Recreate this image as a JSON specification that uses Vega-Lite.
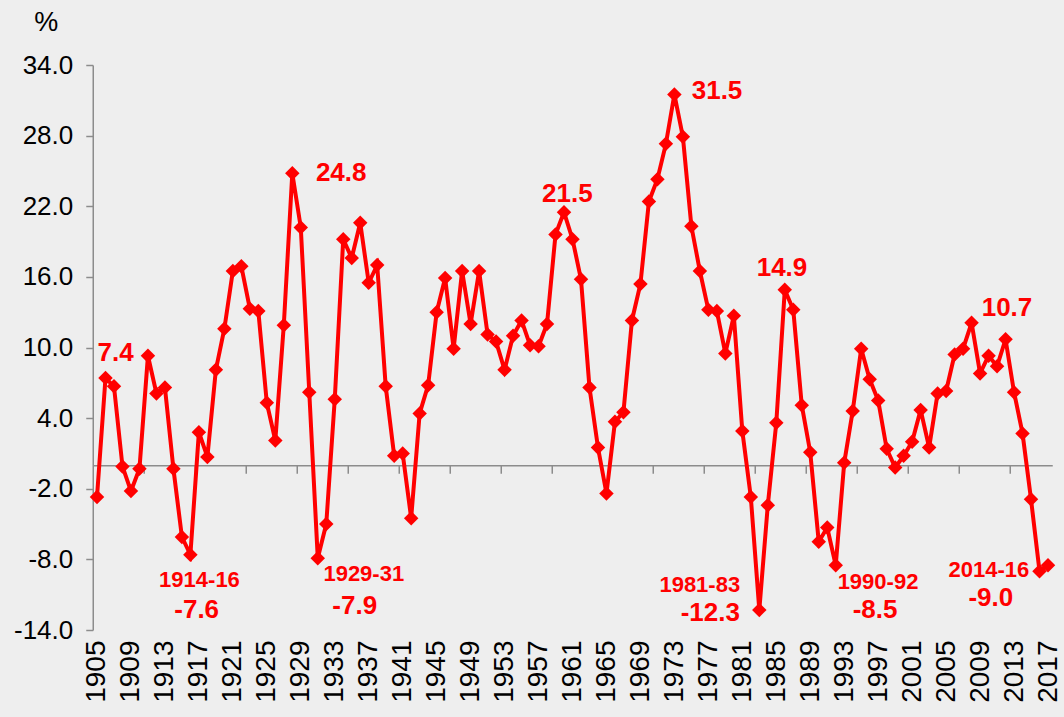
{
  "$schema": "https://vega.github.io/schema/vega-lite/v6.json",
  "width": 959.5,
  "height": 565,
  "autosize": {"type": "none"},
  "padding": {"left": 92.75, "top": 65, "right": 11.75, "bottom": 87},
  "background": "#eeeeee",
  "config": {"view": {"stroke": null}, "font": "Liberation Sans"},
  "datasets": {
    "series": [
      {"year": 1905, "v": -2.7}, {"year": 1906, "v": 7.4}, {"year": 1907, "v": 6.7}, {"year": 1908, "v": -0.1},
      {"year": 1909, "v": -2.2}, {"year": 1910, "v": -0.3}, {"year": 1911, "v": 9.3}, {"year": 1912, "v": 6.1},
      {"year": 1913, "v": 6.6}, {"year": 1914, "v": -0.3}, {"year": 1915, "v": -6.1}, {"year": 1916, "v": -7.6},
      {"year": 1917, "v": 2.8}, {"year": 1918, "v": 0.7}, {"year": 1919, "v": 8.1}, {"year": 1920, "v": 11.6},
      {"year": 1921, "v": 16.5}, {"year": 1922, "v": 16.9}, {"year": 1923, "v": 13.3}, {"year": 1924, "v": 13.1},
      {"year": 1925, "v": 5.3}, {"year": 1926, "v": 2.1}, {"year": 1927, "v": 11.9}, {"year": 1928, "v": 24.8},
      {"year": 1929, "v": 20.2}, {"year": 1930, "v": 6.2}, {"year": 1931, "v": -7.9}, {"year": 1932, "v": -5.0},
      {"year": 1933, "v": 5.6}, {"year": 1934, "v": 19.2}, {"year": 1935, "v": 17.6}, {"year": 1936, "v": 20.6},
      {"year": 1937, "v": 15.5}, {"year": 1938, "v": 17.0}, {"year": 1939, "v": 6.7}, {"year": 1940, "v": 0.8},
      {"year": 1941, "v": 1.0}, {"year": 1942, "v": -4.5}, {"year": 1943, "v": 4.4}, {"year": 1944, "v": 6.8},
      {"year": 1945, "v": 13.0}, {"year": 1946, "v": 15.9}, {"year": 1947, "v": 9.9}, {"year": 1948, "v": 16.5},
      {"year": 1949, "v": 12.0}, {"year": 1950, "v": 16.5}, {"year": 1951, "v": 11.1}, {"year": 1952, "v": 10.5},
      {"year": 1953, "v": 8.1}, {"year": 1954, "v": 11.0}, {"year": 1955, "v": 12.3}, {"year": 1956, "v": 10.2},
      {"year": 1957, "v": 10.1}, {"year": 1958, "v": 12.0}, {"year": 1959, "v": 19.6}, {"year": 1960, "v": 21.5},
      {"year": 1961, "v": 19.2}, {"year": 1962, "v": 15.8}, {"year": 1963, "v": 6.6}, {"year": 1964, "v": 1.5},
      {"year": 1965, "v": -2.4}, {"year": 1966, "v": 3.7}, {"year": 1967, "v": 4.5}, {"year": 1968, "v": 12.3},
      {"year": 1969, "v": 15.4}, {"year": 1970, "v": 22.4}, {"year": 1971, "v": 24.3}, {"year": 1972, "v": 27.3},
      {"year": 1973, "v": 31.5}, {"year": 1974, "v": 27.9}, {"year": 1975, "v": 20.3}, {"year": 1976, "v": 16.5},
      {"year": 1977, "v": 13.2}, {"year": 1978, "v": 13.1}, {"year": 1979, "v": 9.5}, {"year": 1980, "v": 12.7},
      {"year": 1981, "v": 2.9}, {"year": 1982, "v": -2.7}, {"year": 1983, "v": -12.3}, {"year": 1984, "v": -3.4},
      {"year": 1985, "v": 3.6}, {"year": 1986, "v": 14.9}, {"year": 1987, "v": 13.2}, {"year": 1988, "v": 5.1},
      {"year": 1989, "v": 1.1}, {"year": 1990, "v": -6.5}, {"year": 1991, "v": -5.3}, {"year": 1992, "v": -8.5},
      {"year": 1993, "v": 0.2}, {"year": 1994, "v": 4.6}, {"year": 1995, "v": 9.9}, {"year": 1996, "v": 7.3},
      {"year": 1997, "v": 5.5}, {"year": 1998, "v": 1.4}, {"year": 1999, "v": -0.2}, {"year": 2000, "v": 0.8},
      {"year": 2001, "v": 2.0}, {"year": 2002, "v": 4.7}, {"year": 2003, "v": 1.5}, {"year": 2004, "v": 6.1},
      {"year": 2005, "v": 6.3}, {"year": 2006, "v": 9.4}, {"year": 2007, "v": 9.9}, {"year": 2008, "v": 12.1},
      {"year": 2009, "v": 7.8}, {"year": 2010, "v": 9.3}, {"year": 2011, "v": 8.4}, {"year": 2012, "v": 10.7},
      {"year": 2013, "v": 6.2}, {"year": 2014, "v": 2.7}, {"year": 2015, "v": -2.9}, {"year": 2016, "v": -9.0},
      {"year": 2017, "v": -8.5}
    ],
    "notes": [
      {"label": "7.4", "year": 1907.2, "v": 9.5, "kind": "value"},
      {"label": "1914-16", "year": 1917.07, "v": -9.79, "kind": "period"},
      {"label": "-7.6", "year": 1916.74, "v": -12.3, "kind": "value"},
      {"label": "24.8", "year": 1933.76, "v": 24.81, "kind": "value"},
      {"label": "1929-31", "year": 1936.42, "v": -9.25, "kind": "period"},
      {"label": "-7.9", "year": 1935.35, "v": -11.92, "kind": "value"},
      {"label": "21.5", "year": 1960.39, "v": 23.06, "kind": "value"},
      {"label": "31.5", "year": 1978.02, "v": 31.77, "kind": "value"},
      {"label": "14.9", "year": 1985.67, "v": 16.73, "kind": "value"},
      {"label": "1981-83", "year": 1975.99, "v": -10.18, "kind": "period"},
      {"label": "-12.3", "year": 1977.23, "v": -12.53, "kind": "value"},
      {"label": "1990-92", "year": 1996.98, "v": -9.96, "kind": "period"},
      {"label": "-8.5", "year": 1996.63, "v": -12.31, "kind": "value"},
      {"label": "10.7", "year": 2012.17, "v": 13.33, "kind": "value"},
      {"label": "2014-16", "year": 2010.03, "v": -8.92, "kind": "period"},
      {"label": "-9.0", "year": 2010.27, "v": -11.3, "kind": "value"}
    ]
  },
  "layer": [
    {
      "data": {"name": "series"},
      "mark": {
        "type": "line",
        "color": "#ff0000",
        "strokeWidth": 4,
        "strokeJoin": "miter",
        "point": {"shape": "diamond", "size": 210, "filled": true, "color": "#ff0000", "opacity": 1}
      },
      "encoding": {
        "x": {
          "field": "year",
          "type": "quantitative",
          "scale": {"domain": [1904.5, 2017.5], "nice": false, "zero": false},
          "axis": {
            "orient": "bottom",
            "offset": -164.8,
            "values": [1910.5, 1916.5, 1922.5, 1928.5, 1934.5, 1940.5, 1946.5, 1952.5, 1958.5, 1964.5, 1970.5, 1976.5, 1982.5, 1988.5, 1994.5, 2000.5, 2006.5, 2012.5],
            "labels": false,
            "ticks": true,
            "tickSize": 8,
            "tickColor": "#8c8c8c",
            "tickWidth": 1.5,
            "domain": true,
            "domainColor": "#8c8c8c",
            "domainWidth": 1.5,
            "grid": false,
            "title": null
          }
        },
        "y": {
          "field": "v",
          "type": "quantitative",
          "scale": {"domain": [-14, 34], "nice": false, "zero": false},
          "axis": {
            "values": [-14, -8, -2, 4, 10, 16, 22, 28, 34],
            "labelExpr": "replace(format(datum.value, '.1f'), '\u2212', '-')",
            "grid": false,
            "labelFontSize": 26,
            "labelColor": "#000000",
            "labelPadding": 13,
            "tickSize": 7,
            "tickColor": "#8c8c8c",
            "tickWidth": 1.5,
            "domainColor": "#8c8c8c",
            "domainWidth": 1.5,
            "title": "%",
            "titleAngle": 0,
            "titleFontSize": 27,
            "titleFontWeight": "normal",
            "titleColor": "#000000",
            "titleX": -47,
            "titleY": -43,
            "titleAlign": "center",
            "titleBaseline": "middle"
          }
        }
      }
    },
    {
      "data": {"name": "notes"},
      "mark": {"type": "text", "color": "#ff0000", "fontWeight": "bold", "align": "center", "baseline": "middle"},
      "encoding": {
        "x": {
          "field": "year",
          "type": "quantitative",
          "scale": {"domain": [1904.5, 2017.5], "nice": false, "zero": false},
          "axis": {
            "orient": "bottom",
            "values": [1905, 1909, 1913, 1917, 1921, 1925, 1929, 1933, 1937, 1941, 1945, 1949, 1953, 1957, 1961, 1965, 1969, 1973, 1977, 1981, 1985, 1989, 1993, 1997, 2001, 2005, 2009, 2013, 2017],
            "format": "d",
            "labelAngle": -90,
            "labelAlign": "right",
            "labelBaseline": "middle",
            "labelPadding": 10,
            "labelFontSize": 28,
            "labelColor": "#000000",
            "labelOverlap": false,
            "labelFlush": false,
            "ticks": false,
            "domain": false,
            "grid": false,
            "title": null
          }
        },
        "y": {"field": "v", "type": "quantitative", "scale": {"domain": [-14, 34], "nice": false, "zero": false}},
        "text": {"field": "label"},
        "size": {"field": "kind", "type": "nominal", "scale": {"domain": ["value", "period"], "range": [26, 22]}, "legend": null}
      }
    }
  ],
  "resolve": {"axis": {"x": "independent"}}
}
